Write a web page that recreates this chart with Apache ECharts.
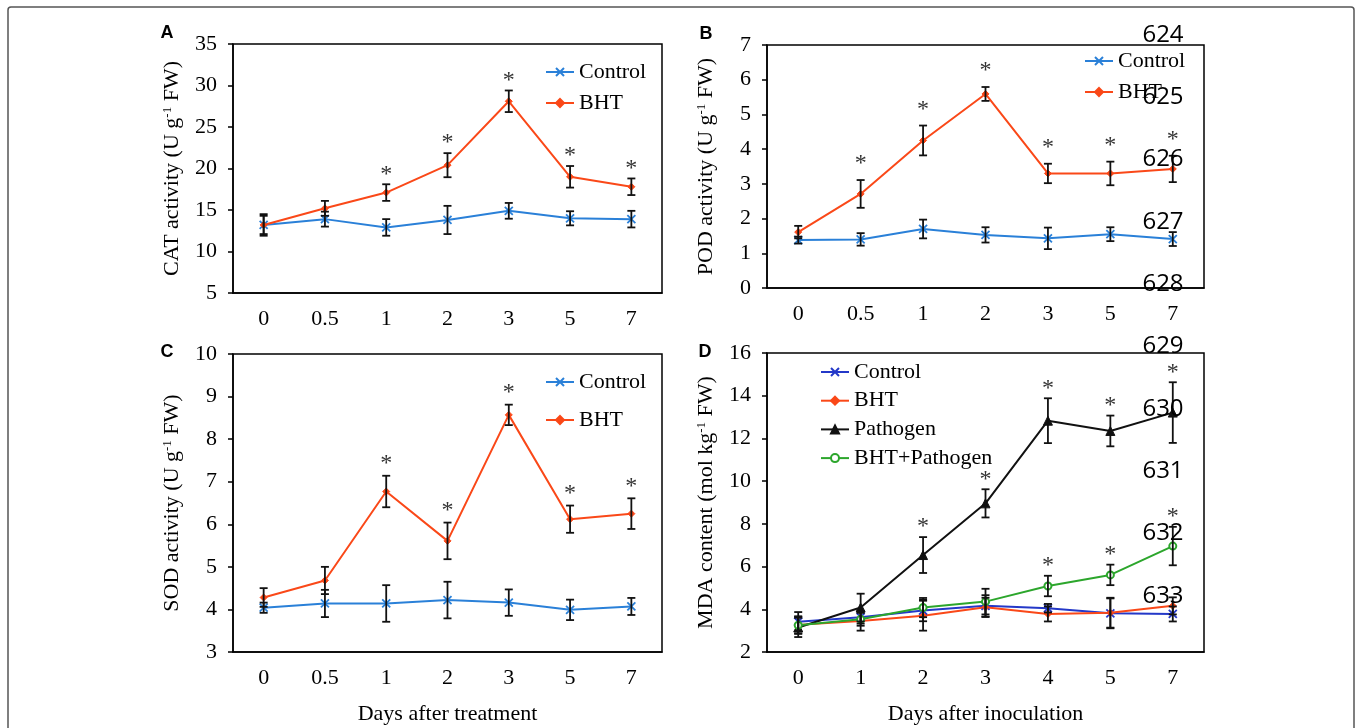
<!DOCTYPE html>
<html>
<head>
<meta charset="utf-8">
<script src="https://cdn.jsdelivr.net/npm/echarts@6/dist/echarts.min.js"></script>
<style>
  html, body { margin: 0; padding: 0; background: #fff; }
  #main { width: 1362px; height: 728px; }
</style>
</head>
<body>
<div id="main"></div>
<script>
// x categories
const daysTreat = ['0', '0.5', '1', '2', '3', '5', '7']
const daysInoc = ['0', '1', '2', '3', '4', '5', '7']

// y ticks of each panel
const ticksA = [5, 10, 15, 20, 25, 30, 35]
const ticksB = [0, 1, 2, 3, 4, 5, 6, 7]
const ticksC = [3, 4, 5, 6, 7, 8, 9, 10]
const ticksD = [2, 4, 6, 8, 10, 12, 14, 16]

// A: CAT activity
const catControl = [13.2, 13.9, 12.9, 13.8, 14.9, 14.0, 13.9]
const catControlErr = [1.1, 0.9, 1.0, 1.7, 0.95, 0.85, 1.0]
const catBHT = [13.2, 15.2, 17.1, 20.4, 28.1, 19.0, 17.8]
const catBHTErr = [1.3, 0.9, 1.0, 1.45, 1.3, 1.3, 1.0]
const catStar = [0, 0, 1, 1, 1, 1, 1]

// B: POD activity
const podControl = [1.38, 1.40, 1.70, 1.53, 1.43, 1.55, 1.41]
const podControlErr = [0.1, 0.18, 0.27, 0.22, 0.31, 0.2, 0.2]
const podBHT = [1.61, 2.71, 4.25, 5.59, 3.30, 3.30, 3.43]
const podBHTErr = [0.18, 0.4, 0.43, 0.2, 0.28, 0.34, 0.38]
const podStar = [0, 1, 1, 1, 1, 1, 1]

// C: SOD activity
const sodControl = [4.04, 4.14, 4.14, 4.22, 4.16, 3.99, 4.07]
const sodControlErr = [0.12, 0.32, 0.43, 0.43, 0.31, 0.24, 0.2]
const sodBHT = [4.28, 4.68, 6.77, 5.61, 8.57, 6.12, 6.25]
const sodBHTErr = [0.22, 0.32, 0.37, 0.43, 0.24, 0.32, 0.36]
const sodStar = [0, 0, 1, 1, 1, 1, 1]

// D: MDA content
const mdaControl = [3.42, 3.63, 3.94, 4.16, 4.05, 3.81, 3.78]
const mdaControlErr = [0.45, 0.3, 0.5, 0.5, 0.2, 0.7, 0.35]
const mdaBHT = [3.27, 3.45, 3.70, 4.09, 3.78, 3.84, 4.16]
const mdaBHTErr = [0.4, 0.45, 0.7, 0.45, 0.35, 0.7, 0.4]
const mdaPath = [3.15, 4.08, 6.54, 8.96, 12.83, 12.35, 13.21]
const mdaPathErr = [0.45, 0.65, 0.84, 0.66, 1.05, 0.72, 1.42]
const mdaBHTPath = [3.25, 3.53, 4.08, 4.36, 5.09, 5.61, 6.96]
const mdaBHTPathErr = [0.4, 0.3, 0.45, 0.6, 0.48, 0.48, 0.9]
const mdaPathStar = [0, 0, 1, 1, 1, 1, 1]
const mdaBHTPathStar = [0, 0, 0, 0, 1, 1, 1]

// side line numbers
const lineNos = ['624', '625', '626', '627', '628', '629', '630', '631', '632', '633']

const serif = '"Liberation Serif", "Times New Roman", serif'
const blue = '#2a80d8'
const red = '#fa4818'
const xMark = 'path://M0,0L10,10M10,0L0,10'

const chart = echarts.init(document.getElementById('main'))

//x轴
function xAxis(idx, cats, name) {
  return {
    type: 'category', gridIndex: idx, data: cats,
    axisLine: { lineStyle: { color: '#000', width: 1.5 } },
    axisTick: { length: 6, lineStyle: { color: '#000', width: 1.5 } },
    axisLabel: { color: '#000', fontSize: 22, fontFamily: serif, margin: 15 },
    name: name || '', nameLocation: 'middle', nameGap: 51,
    nameTextStyle: { color: '#000', fontSize: 22, fontFamily: serif }
  }
}
//y轴
function yAxis(idx, ticks, name) {
  return {
    type: 'value', gridIndex: idx,
    min: ticks[0], max: ticks[ticks.length - 1], interval: ticks[1] - ticks[0],
    axisLine: { show: true, lineStyle: { color: '#000', width: 1.5 } },
    axisTick: { show: true, length: 5, lineStyle: { color: '#000', width: 1.5 } },
    axisLabel: { color: '#000', fontSize: 22, fontFamily: serif, margin: 16 },
    splitLine: { show: false },
    name: name, nameLocation: 'middle', nameGap: 50,
    nameTextStyle: {
      color: '#000', fontSize: 22, fontFamily: serif,
      rich: { sup: { fontSize: 13, fontFamily: serif, color: '#000', verticalAlign: 'top', lineHeight: 22 } }
    }
  }
}
//折线
function line(name, idx, data, color, symbol, size) {
  return {
    name: name, type: 'line', xAxisIndex: idx, yAxisIndex: idx, data: data,
    symbol: symbol, symbolSize: size, showSymbol: true,
    lineStyle: { color: color, width: 2 },
    itemStyle: { color: color, borderColor: color, borderWidth: symbol === xMark ? 1.8 : 1 },
    z: 3
  }
}
//误差线 + 星号
function errBars(idx, list, starGap) {
  const data = []
  list.forEach(s => {
    s.vals.forEach((v, i) => data.push([i, v, s.err[i], s.star ? s.star[i] : 0]))
  })
  return {
    type: 'custom', xAxisIndex: idx, yAxisIndex: idx, data: data, z: 5, silent: true,
    renderItem: function (params, api) {
      const i = api.value(0), v = api.value(1), e = api.value(2), st = api.value(3)
      const top = api.coord([i, v + e])
      const bot = api.coord([i, v - e])
      const stroke = { stroke: '#111', lineWidth: 1.8 }
      const children = [
        { type: 'line', shape: { x1: top[0], y1: top[1], x2: bot[0], y2: bot[1] }, style: stroke },
        { type: 'line', shape: { x1: top[0] - 4, y1: top[1], x2: top[0] + 4, y2: top[1] }, style: stroke },
        { type: 'line', shape: { x1: bot[0] - 4, y1: bot[1], x2: bot[0] + 4, y2: bot[1] }, style: stroke }
      ]
      if (st) {
        children.push({
          type: 'text', x: top[0], y: top[1] - starGap,
          style: { text: '*', fontSize: 24, fontFamily: serif, fill: '#333', align: 'center', verticalAlign: 'middle' }
        })
      }
      return { type: 'group', children: children }
    }
  }
}
function legend(names, left, top, gap) {
  return {
    data: names, orient: 'vertical', left: left, top: top, itemGap: gap,
    itemWidth: 28, itemHeight: 10, padding: 0,
    formatter: n => n.split('|')[1],
    textStyle: { color: '#000', fontSize: 22, fontFamily: serif, lineHeight: 22 }
  }
}

const option = {
  animation: false,
  grid: [
    { left: 233, top: 44, width: 429, height: 249, show: true, borderColor: '#000', borderWidth: 1.5, outerBoundsMode: 'none' },
    { left: 767, top: 45, width: 437, height: 243, show: true, borderColor: '#000', borderWidth: 1.5, outerBoundsMode: 'none' },
    { left: 233, top: 354, width: 429, height: 298, show: true, borderColor: '#000', borderWidth: 1.5, outerBoundsMode: 'none' },
    { left: 767, top: 353, width: 437, height: 299, show: true, borderColor: '#000', borderWidth: 1.5, outerBoundsMode: 'none' }
  ],
  xAxis: [
    xAxis(0, daysTreat),
    xAxis(1, daysTreat),
    xAxis(2, daysTreat, 'Days after treatment'),
    xAxis(3, daysInoc, 'Days after inoculation')
  ],
  yAxis: [
    yAxis(0, ticksA, 'CAT activity (U g{sup|-1} FW)'),
    yAxis(1, ticksB, 'POD activity (U g{sup|-1} FW)'),
    yAxis(2, ticksC, 'SOD activity (U g{sup|-1} FW)'),
    yAxis(3, ticksD, 'MDA content (mol kg{sup|-1} FW)')
  ],
  legend: [
    legend(['A|Control', 'A|BHT'], 545, 61, 9),
    legend(['B|Control', 'B|BHT'], 1084, 50, 9),
    legend(['C|Control', 'C|BHT'], 545, 371, 16),
    legend(['D|Control', 'D|BHT', 'D|Pathogen', 'D|BHT+Pathogen'], 820, 361, 6.7)
  ],
  series: [
    line('A|Control', 0, catControl, blue, xMark, 8),
    line('A|BHT', 0, catBHT, red, 'diamond', 7),
    errBars(0, [{ vals: catControl, err: catControlErr }, { vals: catBHT, err: catBHTErr, star: catStar }], 10),
    line('B|Control', 1, podControl, blue, xMark, 8),
    line('B|BHT', 1, podBHT, red, 'diamond', 7),
    errBars(1, [{ vals: podControl, err: podControlErr }, { vals: podBHT, err: podBHTErr, star: podStar }], 16),
    line('C|Control', 2, sodControl, blue, xMark, 8),
    line('C|BHT', 2, sodBHT, red, 'diamond', 7),
    errBars(2, [{ vals: sodControl, err: sodControlErr }, { vals: sodBHT, err: sodBHTErr, star: sodStar }], 12),
    line('D|Control', 3, mdaControl, '#2438c8', xMark, 8),
    line('D|BHT', 3, mdaBHT, red, 'diamond', 7),
    line('D|Pathogen', 3, mdaPath, '#111', 'triangle', 9),
    line('D|BHT+Pathogen', 3, mdaBHTPath, '#2ca62c', 'emptyCircle', 7),
    errBars(3, [
      { vals: mdaControl, err: mdaControlErr },
      { vals: mdaBHT, err: mdaBHTErr },
      { vals: mdaPath, err: mdaPathErr, star: mdaPathStar },
      { vals: mdaBHTPath, err: mdaBHTPathErr, star: mdaBHTPathStar }
    ], 10)
  ],
  graphic: [
    { type: 'rect', silent: true, z: -10, shape: { x: 8, y: 7, width: 1346, height: 740, r: 3 }, style: { fill: 'none', stroke: '#555', lineWidth: 1.5 } },
    { type: 'text', x: 167, y: 33, style: { text: 'A', font: 'bold 18px "Liberation Sans", Arial, sans-serif', fill: '#000', align: 'center', verticalAlign: 'middle' } },
    { type: 'text', x: 706, y: 34, style: { text: 'B', font: 'bold 18px "Liberation Sans", Arial, sans-serif', fill: '#000', align: 'center', verticalAlign: 'middle' } },
    { type: 'text', x: 167, y: 352, style: { text: 'C', font: 'bold 18px "Liberation Sans", Arial, sans-serif', fill: '#000', align: 'center', verticalAlign: 'middle' } },
    { type: 'text', x: 705, y: 352, style: { text: 'D', font: 'bold 18px "Liberation Sans", Arial, sans-serif', fill: '#000', align: 'center', verticalAlign: 'middle' } }
  ].concat(lineNos.map((t, k) => ({
    type: 'text', x: 1163, y: 35 + k * 62.3, z: 100,
    style: { text: t, font: '24px "Open Sans", sans-serif', fill: '#000', align: 'center', verticalAlign: 'middle' }
  })))
}
chart.setOption(option)
</script>
</body>
</html>
